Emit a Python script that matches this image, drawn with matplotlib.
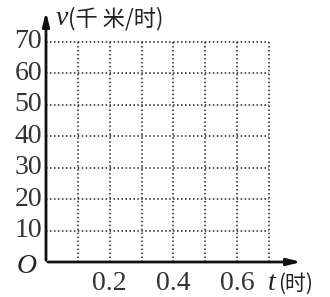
import matplotlib.pyplot as plt

# grid values
x_grid = [0.1, 0.2, 0.3, 0.4, 0.5, 0.6, 0.7]
y_grid = [10, 20, 30, 40, 50, 60, 70]
x_labels = [0.2, 0.4, 0.6]
y_labels = [10, 20, 30, 40, 50, 60, 70]

W, H = 330, 297
x0_px, x_unit = 46, 223 / 0.7
y0_px, y_unit = 262, 220 / 70

fig = plt.figure(figsize=(W / 100, H / 100), dpi=100)
ax = fig.add_axes([0, 0, 1, 1])
ax.set_xlim(-x0_px / x_unit, (W - x0_px) / x_unit)
ax.set_ylim(-(H - y0_px) / y_unit, y0_px / y_unit)
ax.axis('off')

serif = ['Liberation Serif', 'DejaVu Serif']
cjk = ['Noto Sans CJK SC', 'DejaVu Sans']

# dotted grid
ax.hlines(y_grid, 0, max(x_grid), colors='#222', linestyles=(0, (1, 1.6)), linewidth=1.1)
ax.vlines(x_grid, 0, max(y_grid), colors='#222', linestyles=(0, (1, 1.6)), linewidth=1.1)

# axes with arrows
ax.annotate('', xy=(0.81, 0), xytext=(-0.003, 0),
            arrowprops=dict(arrowstyle='-|>,head_length=0.8,head_width=0.2', lw=2, color='#111'))
ax.annotate('', xy=(0, 80.5), xytext=(0, -0.3),
            arrowprops=dict(arrowstyle='-|>,head_length=0.8,head_width=0.2', lw=2, color='#111'))

for v in y_labels:
    ax.text(-0.012, v, str(v), ha='right', va='center', fontsize=20, family=serif, color='#333')
for v in x_labels:
    ax.text(v, -6.8, str(v), ha='center', va='center', fontsize=20, family=serif, color='#333')

ax.text(-0.03, -1.5, 'O', ha='right', va='center', fontsize=20, family=serif, style='italic', color='#222')

ax.text(0.03, 77.5, 'v', ha='left', va='center', fontsize=20, family=serif, style='italic', color='#222')
ax.text(0.07, 77.5, '(千 米/时)', ha='left', va='center', fontsize=16, family=cjk, color='#222')
ax.text(0.695, -6.8, 't', ha='left', va='center', fontsize=20, family=serif, style='italic', color='#222')
ax.text(0.73, -6.8, '(时)', ha='left', va='center', fontsize=15, family=cjk, color='#222')

fig.savefig('out.png', dpi=100)
